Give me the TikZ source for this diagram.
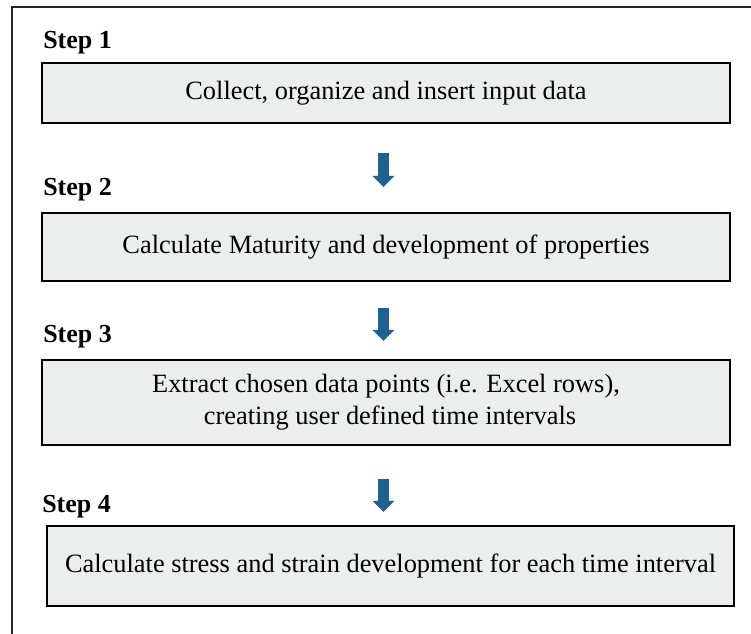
\documentclass[tikz,border=0pt]{standalone}
\usepackage{fontspec}
\setmainfont{Liberation Serif}
\usetikzlibrary{arrows.meta}
\definecolor{boxfill}{HTML}{ECEDED}
\definecolor{arrowblue}{HTML}{1F6190}
\definecolor{framegray}{HTML}{262626}
\begin{document}
\begin{tikzpicture}[x=0.75pt,y=-0.75pt,
  stepbox/.style={draw=black,line width=1.6pt,fill=boxfill,inner sep=0pt,
    minimum width=516pt,align=center,font=\fontsize{19.8}{24}\selectfont},
  steplabel/.style={anchor=base west,inner sep=0pt,font=\fontsize{19.5}{22}\selectfont\bfseries},
  flowarrow/.style={draw=arrowblue,line width=8.25pt,
    -{Triangle[length=8.25pt,width=15.75pt,fill=arrowblue]}}]
\useasboundingbox (0,0) rectangle (751,633);
\clip (0,0) rectangle (751,633);
\draw[framegray,line width=1.5pt] (12,7) rectangle (770,660);
\node[steplabel] (l1) at (43,48) {Step 1};
\node[steplabel] (l2) at (43,195) {Step 2};
\node[steplabel] (l3) at (43,342) {Step 3};
\node[steplabel] (l4) at (42,512) {Step 4};
\node[stepbox,minimum height=45pt] (b1) at (386,93) {Collect, organize and insert input data};
\node[stepbox,minimum height=51pt] (b2) at (386,247) {Calculate Maturity and development of properties};
\node[stepbox,minimum height=63.75pt] (b3) at (386,402.5) {Extract chosen data points (i.e. Excel rows),\\ \hspace{6pt}creating user defined time intervals};
\node[stepbox,minimum height=60pt,minimum width=515pt] (b4) at (390.5,566) {Calculate stress and strain development for each time interval};
\coordinate (ax) at (383.5,0);
\draw[flowarrow,shorten <=21.75pt,shorten >=18.75pt] (b1.south -| ax) -- (b2.north -| ax);
\draw[flowarrow,shorten <=19.5pt,shorten >=13.5pt] (b2.south -| ax) -- (b3.north -| ax);
\draw[flowarrow,shorten <=24.75pt,shorten >=9.75pt] (b3.south -| ax) -- (b4.north -| ax);
\end{tikzpicture}
\end{document}
